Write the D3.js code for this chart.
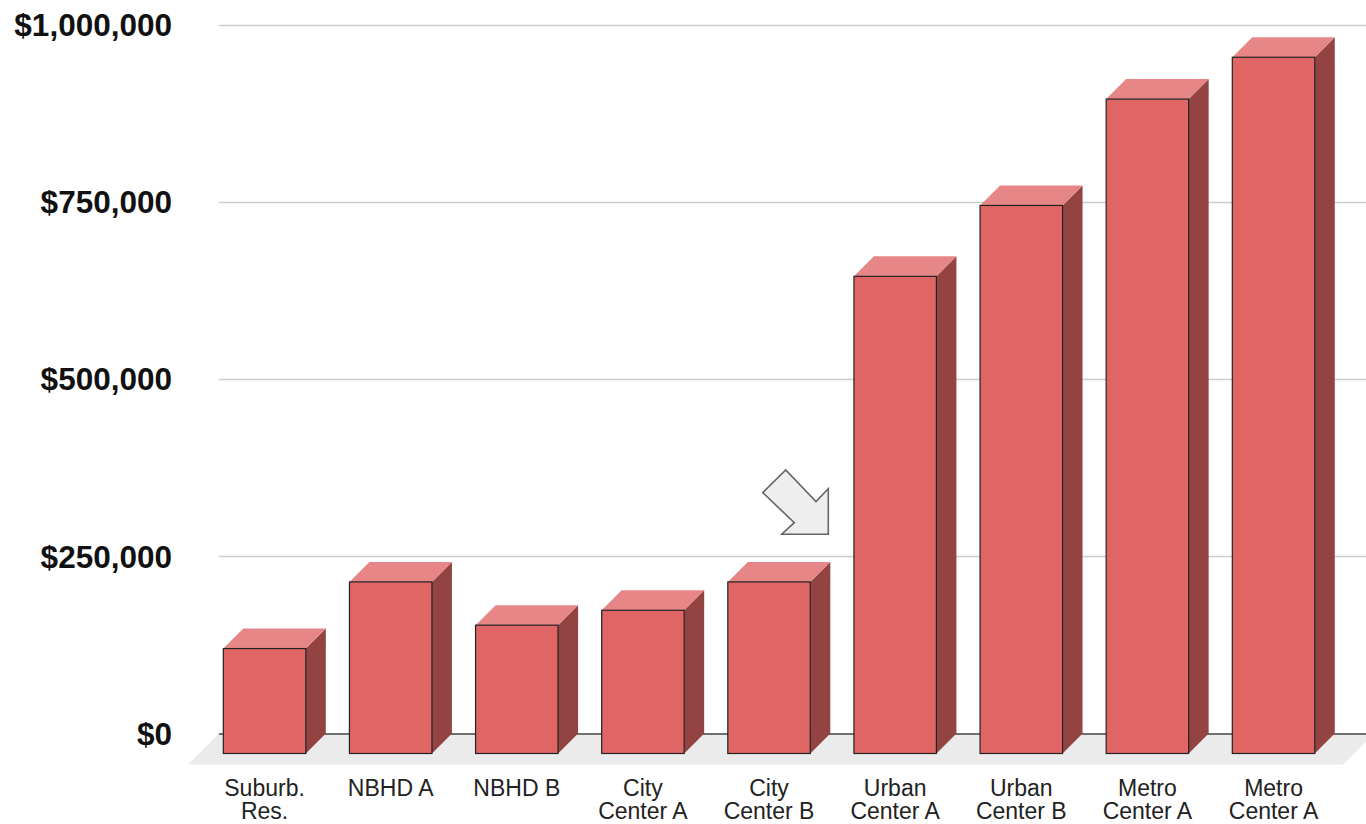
<!DOCTYPE html>
<html>
<head>
<meta charset="utf-8">
<script src="https://cdn.jsdelivr.net/npm/d3@7"></script>
<style>
  html, body { margin: 0; padding: 0; background: #fff; }
  svg { display: block; }
</style>
</head>
<body>
<svg id="chart" width="1366" height="824"></svg>
<script>
// ---- data ----
const categories = ["Suburb.\nRes.", "NBHD A", "NBHD B", "City\nCenter A", "City\nCenter B",
                    "Urban\nCenter A", "Urban\nCenter B", "Metro\nCenter A", "Metro\nCenter A"];
const values = [148000, 242000, 181000, 202000, 242000, 673000, 773000, 923000, 982000];
const yTicks = [0, 250000, 500000, 750000, 1000000];
const arrowCategoryIndex = 4; // annotation arrow next to "City Center B"

// ---- layout ----
const W = 1366, H = 824;
const depth = 20;
const svg = d3.select("#chart");
const ids = categories.map((c, i) => i);

const x = d3.scaleBand().domain(ids).range([201.5, 1336.6]).paddingInner(0.346).paddingOuter(0.173);
const y = d3.scaleLinear().domain([0, 1000000]).range([733.5, 24.5]);
const bw = x.bandwidth();
const plotLeft = 219;

// gridlines (back plane)
svg.append("g").selectAll("line").data(yTicks.filter(d => d > 0)).join("line")
  .attr("x1", plotLeft).attr("x2", W)
  .attr("y1", d => Math.round(y(d)) + 0.5).attr("y2", d => Math.round(y(d)) + 0.5)
  .attr("stroke", "#cccccc").attr("stroke-width", 1.5);

// floor
const y0 = y(0);
svg.append("path")
  .attr("d", `M${plotLeft},${y0} L${W + 8},${y0} L${W + 8 - 31},${y0 + 31} L${plotLeft - 31},${y0 + 31} Z`)
  .attr("fill", "#ebebeb");
svg.append("line")
  .attr("x1", plotLeft).attr("x2", W).attr("y1", y0 + 0.5).attr("y2", y0 + 0.5)
  .attr("stroke", "#444").attr("stroke-width", 1.3);

// y axis labels
svg.append("g").selectAll("text").data(yTicks).join("text")
  .attr("x", 172).attr("y", d => y(d))
  .attr("dy", "0.36em")
  .attr("text-anchor", "end")
  .attr("font-family", "'Liberation Sans', Arial, sans-serif")
  .attr("font-weight", "bold").attr("font-size", 31.5).attr("fill", "#111")
  .text(d => d3.format("$,")(d));

// bars (3D)
const bars = svg.append("g").selectAll("g").data(ids).join("g");
bars.each(function (i) {
  const g = d3.select(this);
  const x0 = x(i) - 0.5 + 0.5, x1 = x(i) + bw;
  const yt = y(values[i]) + depth, yb = y(0) + depth;
  // side
  g.append("path")
    .attr("d", `M${x1},${yt} L${x1 + depth},${yt - depth} L${x1 + depth},${yb - depth} L${x1},${yb} Z`)
    .attr("fill", "#944343");
  // top
  g.append("path")
    .attr("d", `M${x0},${yt} L${x0 + depth},${yt - depth} L${x1 + depth},${yt - depth} L${x1},${yt} Z`)
    .attr("fill", "#e78686");
  // front
  g.append("rect")
    .attr("x", x0).attr("y", yt).attr("width", bw).attr("height", yb - yt)
    .attr("fill", "#e06666").attr("stroke", "#222").attr("stroke-width", 1.2);
});

// x axis labels
const xl = svg.append("g").selectAll("text").data(ids).join("text")
  .attr("x", i => x(i) + bw / 2)
  .attr("y", 796)
  .attr("text-anchor", "middle")
  .attr("font-family", "'Liberation Sans', Arial, sans-serif")
  .attr("font-size", 23).attr("fill", "#222");
xl.each(function (i) {
  const lines = categories[i].split("\n");
  d3.select(this).selectAll("tspan").data(lines).join("tspan")
    .attr("x", x(i) + bw / 2)
    .attr("dy", (d, k) => k === 0 ? 0 : 22.5)
    .text(d => d);
});

// annotation arrow
const tipX = x(arrowCategoryIndex) + bw + 18, tipY = y(250000) - 22;
const arrowPts = [[0, 0], [-46.6, 0], [-34, -11.6], [-65.6, -41.6], [-42.6, -64.3], [-12.3, -32.6], [0, -45.6]];
svg.append("path")
  .attr("d", "M" + arrowPts.map(p => (tipX + p[0]) + "," + (tipY + p[1])).join(" L") + " Z")
  .attr("fill", "#eeeeee").attr("stroke", "#666").attr("stroke-width", 1.6)
  .attr("stroke-linejoin", "miter");
</script>
</body>
</html>
